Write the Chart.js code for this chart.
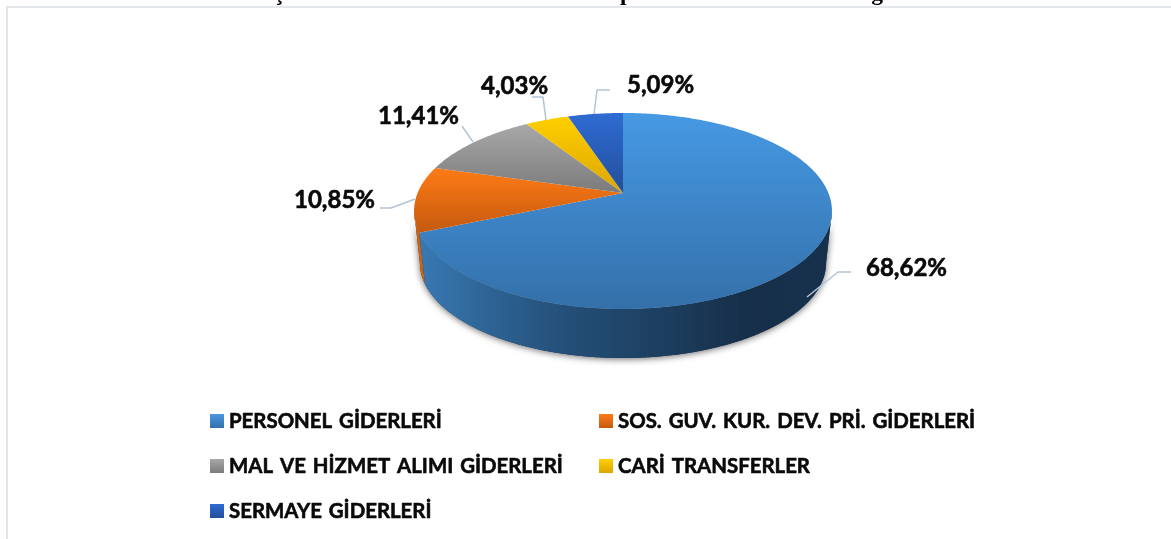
<!DOCTYPE html>
<html lang="tr">
<head>
<meta charset="utf-8">
<title>Gider Grupları</title>
<script src="https://cdn.jsdelivr.net/npm/chart.js@4"></script>
<style>
html,body{margin:0;padding:0;background:#fff;overflow:hidden}
canvas{display:block}
</style>
</head>
<body>
<canvas id="c" width="1171" height="539"></canvas>
<script>
const titleText = "Bütçe Harcamalarının Ekonomik Gruplar Bazında Oransal Dağılımı";
const categories = ["PERSONEL GİDERLERİ", "SOS. GUV. KUR. DEV. PRİ. GİDERLERİ", "MAL VE HİZMET ALIMI GİDERLERİ", "CARİ TRANSFERLER", "SERMAYE GİDERLERİ"];
const shares = [68.62, 10.85, 11.41, 4.03, 5.09];
const shareLabels = ["68,62%", "10,85%", "11,41%", "4,03%", "5,09%"];
const topColors = ["#4699e4", "#ff7b15", "#a8a8a8", "#ffcf00", "#2f6bd3"];
const bottomColors = ["#3470a9", "#c4590f", "#7b7b7b", "#dca600", "#224f9b"];
const sideColors = [null, "#cf620f", "#777", "#c90", "#1f4a90"];

// Layout of the annotations (not data)
const labelBoxes = [
  {x: 866, y: 268, line: [[807,297],[838,272],[851,272]]},
  {x: 294, y: 200, line: [[380,208],[391,208],[415,199]]},
  {x: 378, y: 116, line: [[462,126],[473,142]]},
  {x: 481, y: 86,  line: [[532,97],[543,97],[546,120]]},
  {x: 627, y: 85,  line: [[610,90],[597,90],[594,114]]}
];
const legendSlots = [[210,414],[599,414],[210,459],[599,459],[210,504]];

const TILT = { C: -0.1837, yScale: 94.7/209, xScale: 205.4/209, apexShift: -18, depth: 49, base: 0.972 };

function project(el, a, level = 0, r = 1) {
  const u = Math.cos(a) * r, v = Math.sin(a) * r;
  const w = 1 + TILT.C * v;
  const dx = TILT.xScale * el.outerRadius * u / w;
  const dy = TILT.yScale * el.outerRadius * v / w;
  const front = TILT.yScale * el.outerRadius / (1 + TILT.C);
  const cy = el.y + TILT.apexShift;
  if (!level) return [el.x + dx, cy + dy];
  const s = TILT.base;
  return [el.x + dx * s, cy + dy * s + front * (1 - s) + level];
}
function trace(ctx, pts) {
  ctx.beginPath();
  pts.forEach((p, i) => i ? ctx.lineTo(p[0], p[1]) : ctx.moveTo(p[0], p[1]));
  ctx.closePath();
}
function rim(el, a0, a1, level) {
  const n = Math.max(2, Math.ceil(Math.abs(a1 - a0) / 0.01));
  const out = [];
  for (let i = 0; i <= n; i++) out.push(project(el, a0 + (a1 - a0) * i / n, level));
  return out;
}
function heavyText(ctx, text, x, y) {
  ctx.fillText(text, x, y);
  ctx.strokeText(text, x, y);
}

const pie3d = {
  id: "pie3d",
  beforeDraw(chart) {
    const ctx = chart.ctx;
    ctx.save();
    ctx.fillStyle = "#fff";
    ctx.fillRect(0, 0, chart.width, chart.height);
    ctx.fillStyle = "#e3e7eb";
    ctx.fillRect(6, 6, chart.width - 6, 2);
    ctx.fillRect(6, 6, 2, chart.height - 6);
    ctx.fillStyle = "#000";
    ctx.font = "bold 23.5px 'Liberation Serif'";
    ctx.textBaseline = "alphabetic";
    ctx.textAlign = "center";
    ctx.fillText(titleText, 583, 0);
    ctx.restore();
  },
  beforeDatasetsDraw(chart) {
    const ctx = chart.ctx;
    const arcs = chart.getDatasetMeta(0).data;
    const el0 = arcs[0];
    const lo = Math.asin(-TILT.C), hi = Math.PI - lo;

    // Soft shadow under the disc
    ctx.save();
    ctx.shadowColor = "rgba(0,0,0,0.6)";
    ctx.shadowBlur = 7;
    ctx.shadowOffsetY = 1;
    ctx.fillStyle = "#1c3b5a";
    trace(ctx, rim(el0, lo, hi, TILT.depth).concat(rim(el0, hi, lo, 0)));
    ctx.fill();
    ctx.restore();

    // Outer wall of every slice that faces the viewer, back to front
    const order = arcs.map((_, i) => i).reverse();
    order.forEach(i => {
      const el = arcs[i];
      const a0 = Math.max(el.startAngle, lo), a1 = Math.min(el.endAngle, hi);
      if (a1 <= a0) return;
      const pts = rim(el, a0, a1, 0).concat(rim(el, a1, a0, TILT.depth));
      if (i === 0) {
        const g = ctx.createLinearGradient(project(el, hi)[0], 0, project(el, lo)[0], 0);
        g.addColorStop(0, "#3a7ab6");
        g.addColorStop(0.16, "#2f6698");
        g.addColorStop(0.36, "#244f78");
        g.addColorStop(0.55, "#1e4264");
        g.addColorStop(0.8, "#162e48");
        g.addColorStop(1, "#17314d");
        ctx.fillStyle = g;
      } else {
        ctx.fillStyle = sideColors[i];
      }
      trace(ctx, pts);
      ctx.fill();
    });

    // Top faces
    arcs.forEach((el, i) => {
      const pts = [project(el, 0, 0, 0)].concat(rim(el, el.startAngle, el.endAngle, 0));
      const ys = pts.map(p => p[1]);
      const g = ctx.createLinearGradient(0, Math.min(...ys), 0, Math.max(...ys));
      g.addColorStop(0, topColors[i]);
      g.addColorStop(1, bottomColors[i]);
      ctx.fillStyle = g;
      trace(ctx, pts);
      ctx.fill();
    });
    return false;
  },
  afterDraw(chart) {
    const ctx = chart.ctx;
    ctx.save();
    ctx.textBaseline = "middle";
    ctx.textAlign = "left";
    ctx.lineJoin = "round";
    // Leader lines and value labels
    labelBoxes.forEach((b, i) => {
      ctx.strokeStyle = "#b3c3d6";
      ctx.lineWidth = 1.5;
      ctx.beginPath();
      b.line.forEach((p, k) => k ? ctx.lineTo(p[0], p[1]) : ctx.moveTo(p[0], p[1]));
      ctx.stroke();
      ctx.fillStyle = "#0a0a0a";
      ctx.strokeStyle = "#0a0a0a";
      ctx.lineWidth = 0.6;
      ctx.font = "bold 24px Lato";
      heavyText(ctx, shareLabels[i], b.x, b.y);
    });
    // Legend
    ctx.wordSpacing = "2px";
    categories.forEach((name, i) => {
      const [x, y] = legendSlots[i];
      const g = ctx.createLinearGradient(0, y, 0, y + 14);
      g.addColorStop(0, topColors[i]);
      g.addColorStop(1, bottomColors[i]);
      ctx.fillStyle = g;
      ctx.fillRect(x, y, 14, 14);
      ctx.fillStyle = "#0a0a0a";
      ctx.strokeStyle = "#0a0a0a";
      ctx.lineWidth = 0.6;
      ctx.font = "bold 20.4px Lato";
      heavyText(ctx, name, x + 19, y + 7);
    });
    ctx.restore();
  }
};

new Chart(document.getElementById("c"), {
  type: "pie",
  data: {
    labels: categories,
    datasets: [{ data: shares, backgroundColor: topColors, borderWidth: 0 }]
  },
  options: {
    responsive: false,
    animation: false,
    layout: { padding: { left: 414, right: 339, top: 2, bottom: 119 } },
    plugins: { legend: { display: false }, tooltip: { enabled: false }, title: { display: false } }
  },
  plugins: [pie3d]
});
</script>
</body>
</html>
